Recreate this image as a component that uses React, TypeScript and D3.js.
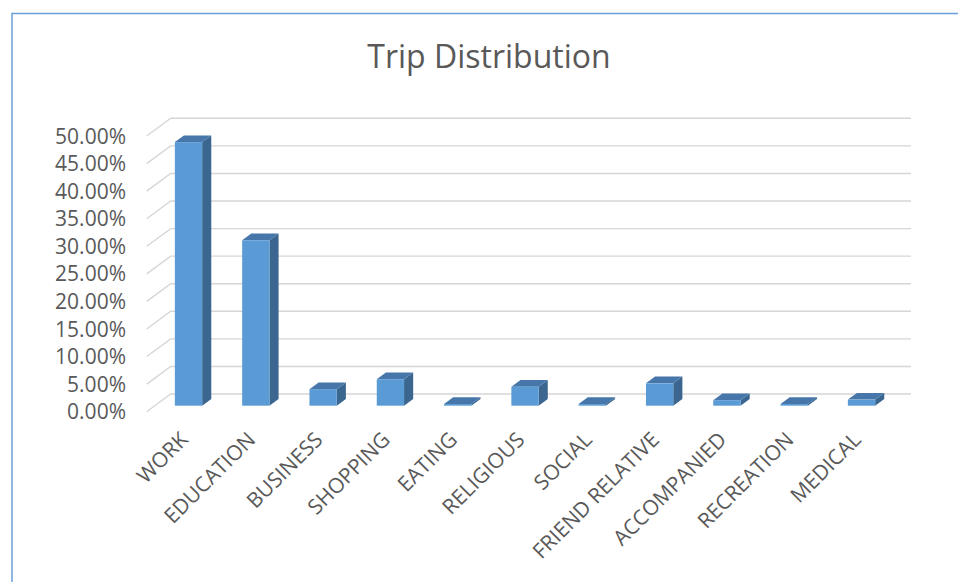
import React from "react";
import * as d3 from "d3";

const categories = [
  "WORK",
  "EDUCATION",
  "BUSINESS",
  "SHOPPING",
  "EATING",
  "RELIGIOUS",
  "SOCIAL",
  "FRIEND RELATIVE",
  "ACCOMPANIED",
  "RECREATION",
  "MEDICAL",
];
const shares = [0.478, 0.3, 0.03, 0.048, 0.003, 0.0345, 0.003, 0.0405, 0.01, 0.003, 0.011];
const yTicks = [0, 0.05, 0.1, 0.15, 0.2, 0.25, 0.3, 0.35, 0.4, 0.45, 0.5];
const title = "Trip Distribution";

const W = 958;
const H = 582;
const FONT = "'Open Sans', 'Noto Sans', sans-serif";
const TEXT = "#595959";

export default function App() {
  const x0 = 146.7;
  const plotW = 740.3;
  const depth = { x: 24, y: -17.7 };
  const t0 = 0.34;
  const t1 = 0.72;
  const barW = 27.3;

  const x = d3.scaleBand<string>().domain(categories).range([x0, x0 + plotW]).padding(0);
  const y = d3.scaleLinear().domain([0, 0.5]).range([411.7, 136]);
  const fmt = (v: number) => (v * 100).toFixed(2) + "%";

  const o0 = { x: depth.x * t0, y: depth.y * t0 };
  const o1 = { x: depth.x * t1, y: depth.y * t1 };

  return (
    <svg
      width={W}
      height={H}
      style={{ position: "absolute", left: 0, top: 0, background: "#fff" }}
      fontFamily={FONT}
    >
      <rect x={0} y={0} width={W} height={H} fill="#fff" />
      {/* chart border */}
      <path d={`M12,${H} L12,13.5 L${W},13.5`} fill="none" stroke="#6a9fd8" strokeWidth={1.5} />

      <text x={489} y={68} textAnchor="middle" fontSize={32} fill={TEXT}>
        {title}
      </text>

      {/* gridlines on wall */}
      {yTicks.map((t) => {
        const yf = y(t);
        return (
          <g key={t}>
            <path
              d={`M${x0},${yf} L${x0 + depth.x},${yf + depth.y} L${x0 + depth.x + plotW},${yf + depth.y}`}
              fill="none"
              stroke="#d6d6d6"
              strokeWidth={1.4}
            />
            <text
              x={126}
              y={yf}
              dy="0.36em"
              textAnchor="end"
              fontSize={21}
              fill={TEXT}
            >
              {fmt(t)}
            </text>
          </g>
        );
      })}

      {/* bars */}
      {categories.map((c, i) => {
        const v = shares[i];
        const xl = (x(c) as number) + (x.bandwidth() - barW) / 2;
        const xr = xl + barW;
        const yt = y(v);
        const yb = y(0);
        const top = [
          [xl + o0.x, yt + o0.y],
          [xr + o0.x, yt + o0.y],
          [xr + o1.x, yt + o1.y],
          [xl + o1.x, yt + o1.y],
        ];
        const side = [
          [xr + o0.x, yt + o0.y],
          [xr + o1.x, yt + o1.y],
          [xr + o1.x, yb + o1.y],
          [xr + o0.x, yb + o0.y],
        ];
        const pts = (p: number[][]) => p.map((q) => q.join(",")).join(" ");
        return (
          <g key={c}>
            <polygon points={pts(side)} fill="#3a6690" />
            <polygon points={pts(top)} fill="#4777aa" />
            <rect
              x={xl + o0.x}
              y={yt + o0.y}
              width={barW}
              height={Math.max(0, yb - yt)}
              fill="#5b9bd5"
            />
          </g>
        );
      })}

      {/* category labels */}
      {categories.map((c) => {
        const cx = (x(c) as number) + x.bandwidth() / 2 + 9;
        const cy = 441;
        return (
          <text
            key={c}
            x={cx}
            y={cy}
            textAnchor="end"
            fontSize={21}
            fill={TEXT}
            transform={`rotate(-45 ${cx} ${cy})`}
          >
            {c}
          </text>
        );
      })}
    </svg>
  );
}
